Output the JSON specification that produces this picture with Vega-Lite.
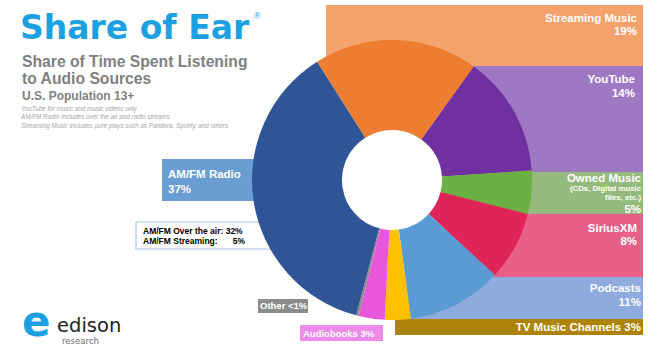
{
  "$schema": "https://vega.github.io/schema/vega-lite/v6.json",
  "width": 653,
  "height": 348,
  "autosize": {"type": "none"},
  "padding": 0,
  "background": "white",
  "config": {"view": {"stroke": null}},
  "resolve": {"scale": {"color": "independent"}},
  "layer": [
    {
      "data": {"values": [
        {"name": "Streaming Music", "x0": 326, "x1": 643, "y0": 5, "y1": 66},
        {"name": "YouTube", "x0": 444, "x1": 643, "y0": 66, "y1": 172},
        {"name": "Owned Music", "x0": 444, "x1": 643, "y0": 172, "y1": 214},
        {"name": "SiriusXM", "x0": 444, "x1": 643, "y0": 214, "y1": 277},
        {"name": "Podcasts", "x0": 392, "x1": 643, "y0": 277, "y1": 319},
        {"name": "TV Music Channels", "x0": 395, "x1": 643, "y0": 319, "y1": 335},
        {"name": "AM/FM Radio", "x0": 162, "x1": 300, "y0": 159, "y1": 201},
        {"name": "Other", "x0": 258, "x1": 308, "y0": 299, "y1": 313},
        {"name": "Audiobooks", "x0": 300, "x1": 383, "y0": 325, "y1": 341}
      ]},
      "mark": {"type": "rect"},
      "encoding": {
        "x": {"field": "x0", "type": "quantitative", "scale": {"domain": [0, 653], "nice": false, "zero": false}, "axis": null},
        "x2": {"field": "x1"},
        "y": {"field": "y0", "type": "quantitative", "scale": {"domain": [0, 348], "reverse": true, "nice": false, "zero": false}, "axis": null},
        "y2": {"field": "y1"},
        "color": {"field": "name", "type": "nominal", "legend": null,
          "scale": {"domain": ["Streaming Music", "YouTube", "Owned Music", "SiriusXM", "Podcasts", "TV Music Channels", "AM/FM Radio", "Other", "Audiobooks"],
                    "range": ["#F3A26C", "#9F78C3", "#94BA7E", "#E8608A", "#8FAADC", "#AD8407", "#6A9DD2", "#8C8C8C", "#EE8AE8"]}}
      }
    },
    {
      "data": {"values": [{"name": "note", "x0": 136, "x1": 290, "y0": 222, "y1": 249}]},
      "mark": {"type": "rect", "fill": "white", "stroke": "#A9C0DE", "strokeWidth": 1.2},
      "encoding": {
        "x": {"field": "x0", "type": "quantitative", "scale": {"domain": [0, 653], "nice": false, "zero": false}, "axis": null},
        "x2": {"field": "x1"},
        "y": {"field": "y0", "type": "quantitative", "scale": {"domain": [0, 348], "reverse": true, "nice": false, "zero": false}, "axis": null},
        "y2": {"field": "y1"}
      }
    },
    {
      "data": {"values": [
        {"source": "Streaming Music", "share": 19, "ord": 1},
        {"source": "YouTube", "share": 14, "ord": 2},
        {"source": "Owned Music", "share": 5, "ord": 3},
        {"source": "SiriusXM", "share": 8, "ord": 4},
        {"source": "Podcasts", "share": 11, "ord": 5},
        {"source": "TV Music Channels", "share": 3, "ord": 6},
        {"source": "Audiobooks", "share": 3, "ord": 7},
        {"source": "Other", "share": 0.3, "ord": 8},
        {"source": "AM/FM Radio", "share": 37, "ord": 9}
      ]},
      "mark": {"type": "arc", "radius": 140, "radius2": 50},
      "encoding": {
        "theta": {"field": "share", "type": "quantitative", "stack": true, "scale": {"range": [-0.565, 5.718]}},
        "order": {"field": "ord", "type": "quantitative"},
        "x": {"datum": 392, "type": "quantitative", "scale": {"domain": [0, 653], "nice": false, "zero": false}, "axis": null},
        "y": {"datum": 180, "type": "quantitative", "scale": {"domain": [0, 348], "reverse": true, "nice": false, "zero": false}, "axis": null},
        "color": {"field": "source", "type": "nominal", "legend": null,
          "scale": {"domain": ["Streaming Music", "YouTube", "Owned Music", "SiriusXM", "Podcasts", "TV Music Channels", "Audiobooks", "Other", "AM/FM Radio"],
                    "range": ["#ED7D31", "#7030A0", "#6CAF45", "#DF2458", "#5B9BD5", "#FFC000", "#E856DA", "#8C8C8C", "#2F5597"]}}
      }
    },
    {
      "data": {"values": [
        {"t": "Streaming Music", "x": 637, "y": 21.5},
        {"t": "19%", "x": 637, "y": 35},
        {"t": "YouTube", "x": 635, "y": 83.3},
        {"t": "14%", "x": 635, "y": 96.7},
        {"t": "Owned Music", "x": 641, "y": 181.7},
        {"t": "5%", "x": 641, "y": 213},
        {"t": "SiriusXM", "x": 637, "y": 231.7},
        {"t": "8%", "x": 637, "y": 245},
        {"t": "Podcasts", "x": 641, "y": 291.7},
        {"t": "11%", "x": 641, "y": 305.7},
        {"t": "TV Music Channels 3%", "x": 641, "y": 330.7}
      ]},
      "mark": {"type": "text", "align": "right", "baseline": "alphabetic", "font": "Liberation Sans", "fontWeight": "bold", "fontSize": 11.5, "color": "white"},
      "encoding": {
        "x": {"field": "x", "type": "quantitative", "scale": {"domain": [0, 653], "nice": false, "zero": false}, "axis": null},
        "y": {"field": "y", "type": "quantitative", "scale": {"domain": [0, 348], "reverse": true, "nice": false, "zero": false}, "axis": null},
        "text": {"field": "t"}
      }
    },
    {
      "data": {"values": [
        {"t": "(CDs, Digital music", "x": 641, "y": 190.5},
        {"t": "files, etc.)", "x": 641, "y": 200}
      ]},
      "mark": {"type": "text", "align": "right", "baseline": "alphabetic", "font": "Liberation Sans", "fontWeight": "bold", "fontSize": 7.8, "color": "white"},
      "encoding": {
        "x": {"field": "x", "type": "quantitative", "scale": {"domain": [0, 653], "nice": false, "zero": false}, "axis": null},
        "y": {"field": "y", "type": "quantitative", "scale": {"domain": [0, 348], "reverse": true, "nice": false, "zero": false}, "axis": null},
        "text": {"field": "t"}
      }
    },
    {
      "data": {"values": [
        {"t": "AM/FM Radio", "x": 168, "y": 178},
        {"t": "37%", "x": 168, "y": 192.7}
      ]},
      "mark": {"type": "text", "align": "left", "baseline": "alphabetic", "font": "Liberation Sans", "fontWeight": "bold", "fontSize": 11.5, "color": "white"},
      "encoding": {
        "x": {"field": "x", "type": "quantitative", "scale": {"domain": [0, 653], "nice": false, "zero": false}, "axis": null},
        "y": {"field": "y", "type": "quantitative", "scale": {"domain": [0, 348], "reverse": true, "nice": false, "zero": false}, "axis": null},
        "text": {"field": "t"}
      }
    },
    {
      "data": {"values": [
        {"t": "Other <1%", "x": 260, "y": 309.3},
        {"t": "Audiobooks 3%", "x": 303, "y": 336.5}
      ]},
      "mark": {"type": "text", "align": "left", "baseline": "alphabetic", "font": "Liberation Sans", "fontWeight": "bold", "fontSize": 9.5, "color": "white"},
      "encoding": {
        "x": {"field": "x", "type": "quantitative", "scale": {"domain": [0, 653], "nice": false, "zero": false}, "axis": null},
        "y": {"field": "y", "type": "quantitative", "scale": {"domain": [0, 348], "reverse": true, "nice": false, "zero": false}, "axis": null},
        "text": {"field": "t"}
      }
    },
    {
      "data": {"values": [
        {"t": "AM/FM Over the air: 32%", "x": 143, "y": 234},
        {"t": "AM/FM Streaming:", "x": 143, "y": 244}
      ]},
      "mark": {"type": "text", "align": "left", "baseline": "alphabetic", "font": "Liberation Sans", "fontWeight": "bold", "fontSize": 8.5, "color": "black"},
      "encoding": {
        "x": {"field": "x", "type": "quantitative", "scale": {"domain": [0, 653], "nice": false, "zero": false}, "axis": null},
        "y": {"field": "y", "type": "quantitative", "scale": {"domain": [0, 348], "reverse": true, "nice": false, "zero": false}, "axis": null},
        "text": {"field": "t"}
      }
    },
    {
      "data": {"values": [
        {"t": "5%", "x": 245, "y": 244}
      ]},
      "mark": {"type": "text", "align": "right", "baseline": "alphabetic", "font": "Liberation Sans", "fontWeight": "bold", "fontSize": 8.5, "color": "black"},
      "encoding": {
        "x": {"field": "x", "type": "quantitative", "scale": {"domain": [0, 653], "nice": false, "zero": false}, "axis": null},
        "y": {"field": "y", "type": "quantitative", "scale": {"domain": [0, 348], "reverse": true, "nice": false, "zero": false}, "axis": null},
        "text": {"field": "t"}
      }
    },
    {
      "data": {"values": [{"t": "Share of Ear", "x": 20, "y": 38.5}]},
      "mark": {"type": "text", "align": "left", "baseline": "alphabetic", "font": "DejaVu Sans", "fontWeight": "bold", "fontSize": 33, "color": "#1BA1E2"},
      "encoding": {
        "x": {"field": "x", "type": "quantitative", "scale": {"domain": [0, 653], "nice": false, "zero": false}, "axis": null},
        "y": {"field": "y", "type": "quantitative", "scale": {"domain": [0, 348], "reverse": true, "nice": false, "zero": false}, "axis": null},
        "text": {"field": "t"}
      }
    },
    {
      "data": {"values": [{"t": "®", "x": 254, "y": 19}]},
      "mark": {"type": "text", "align": "left", "baseline": "alphabetic", "font": "Liberation Sans", "fontSize": 9, "color": "#1BA1E2"},
      "encoding": {
        "x": {"field": "x", "type": "quantitative", "scale": {"domain": [0, 653], "nice": false, "zero": false}, "axis": null},
        "y": {"field": "y", "type": "quantitative", "scale": {"domain": [0, 348], "reverse": true, "nice": false, "zero": false}, "axis": null},
        "text": {"field": "t"}
      }
    },
    {
      "data": {"values": [
        {"t": "Share of Time Spent Listening", "x": 22, "y": 66.7, "s": 15.7},
        {"t": "to Audio Sources", "x": 22, "y": 83.5, "s": 15.7},
        {"t": "U.S. Population 13+", "x": 22, "y": 100, "s": 12}
      ]},
      "mark": {"type": "text", "align": "left", "baseline": "alphabetic", "font": "Liberation Sans", "fontWeight": "bold", "color": "#808080"},
      "encoding": {
        "x": {"field": "x", "type": "quantitative", "scale": {"domain": [0, 653], "nice": false, "zero": false}, "axis": null},
        "y": {"field": "y", "type": "quantitative", "scale": {"domain": [0, 348], "reverse": true, "nice": false, "zero": false}, "axis": null},
        "text": {"field": "t"},
        "size": {"field": "s", "type": "quantitative", "scale": null}
      }
    },
    {
      "data": {"values": [
        {"t": "YouTube for music and music videos only", "x": 21, "y": 110.5},
        {"t": "AM/FM Radio includes over the air and radio streams", "x": 21, "y": 119},
        {"t": "Streaming Music includes pure plays such as Pandora, Spotify, and others", "x": 21, "y": 127.5}
      ]},
      "mark": {"type": "text", "align": "left", "baseline": "alphabetic", "font": "Liberation Sans", "fontStyle": "italic", "fontSize": 6.3, "color": "#A6A6A6"},
      "encoding": {
        "x": {"field": "x", "type": "quantitative", "scale": {"domain": [0, 653], "nice": false, "zero": false}, "axis": null},
        "y": {"field": "y", "type": "quantitative", "scale": {"domain": [0, 348], "reverse": true, "nice": false, "zero": false}, "axis": null},
        "text": {"field": "t"}
      }
    },
    {
      "data": {"values": [{"t": "e", "x": 22, "y": 336}]},
      "mark": {"type": "text", "align": "left", "baseline": "alphabetic", "font": "DejaVu Sans", "fontWeight": "bold", "fontSize": 42, "color": "#1BA1E2"},
      "encoding": {
        "x": {"field": "x", "type": "quantitative", "scale": {"domain": [0, 653], "nice": false, "zero": false}, "axis": null},
        "y": {"field": "y", "type": "quantitative", "scale": {"domain": [0, 348], "reverse": true, "nice": false, "zero": false}, "axis": null},
        "text": {"field": "t"}
      }
    },
    {
      "data": {"values": [
        {"t": "edison", "x": 57, "y": 332, "s": 19.5, "c": "#1E1E1E"},
        {"t": "research", "x": 62, "y": 344, "s": 8.5, "c": "#707070"}
      ]},
      "mark": {"type": "text", "align": "left", "baseline": "alphabetic", "font": "DejaVu Sans"},
      "encoding": {
        "x": {"field": "x", "type": "quantitative", "scale": {"domain": [0, 653], "nice": false, "zero": false}, "axis": null},
        "y": {"field": "y", "type": "quantitative", "scale": {"domain": [0, 348], "reverse": true, "nice": false, "zero": false}, "axis": null},
        "text": {"field": "t"},
        "size": {"field": "s", "type": "quantitative", "scale": null},
        "color": {"field": "c", "type": "nominal", "scale": null}
      }
    }
  ]
}
